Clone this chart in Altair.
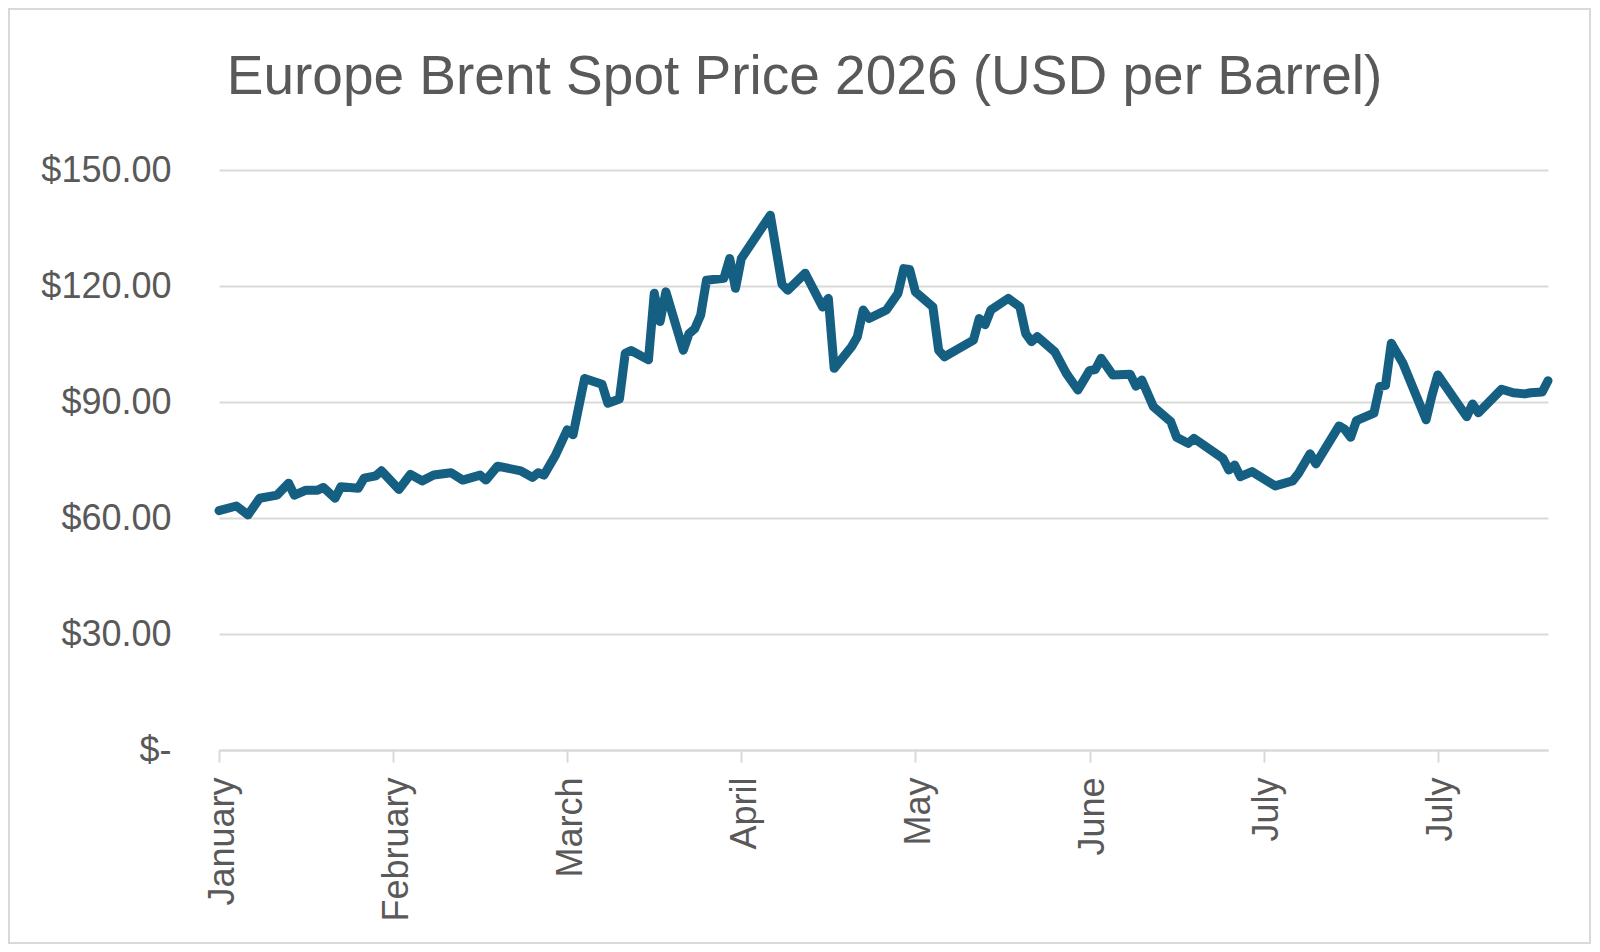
import altair as alt
import pandas as pd

# Day offsets from 2 January 2026 and Brent spot price (USD per barrel)
day_offsets = [0, 3, 5, 7, 10, 12, 13, 15, 17, 18, 20, 21, 24, 25, 27, 28, 31, 33, 35, 37,
               40, 42, 45, 46, 48, 52, 54, 55, 56, 58, 60, 61, 63, 66, 67, 69, 70, 71, 74, 75,
               76, 77, 80, 81, 82, 83, 84, 87, 88, 89, 90, 95, 97, 98, 101, 104, 105, 106, 109, 110,
               111, 112, 115, 117, 118, 119, 120, 123, 124, 125, 127, 130, 131, 132, 133, 136, 138, 139, 140, 141,
               144, 146, 148, 150, 151, 152, 154, 157, 158, 159, 161, 164, 165, 167, 168, 173, 174, 175, 176, 178,
               182, 185, 186, 188, 189, 193, 194, 195, 196, 199, 200, 201, 202, 204, 206, 208, 209, 210, 215, 216,
               217, 221, 223, 225, 226, 228, 229]
prices = [61.9, 63.1, 60.8, 65.1, 65.9, 69.0, 65.9, 67.2, 67.2, 67.9, 65.1, 68.1, 67.7, 70.3, 70.9, 72.2, 67.4, 71.3, 69.6, 71.1,
          71.7, 69.8, 71.1, 69.8, 73.4, 72.2, 70.5, 71.7, 71.1, 76.3, 82.8, 81.5, 96.1, 94.6, 89.7, 90.8, 102.6, 103.3, 100.9, 118.1,
          110.8, 118.5, 103.4, 107.7, 109.0, 112.5, 121.5, 122.0, 127.1, 119.4, 127.1, 138.3, 120.5, 118.9, 123.3, 114.6, 116.8, 98.7, 104.3, 106.9,
          113.8, 111.6, 113.8, 118.1, 124.5, 124.3, 118.5, 114.6, 103.4, 101.7, 103.4, 106.0, 111.6, 110.0, 113.8, 116.8, 114.6, 107.7, 105.6, 106.9,
          103.0, 97.4, 93.1, 98.1, 98.4, 101.3, 97.0, 97.2, 94.1, 95.7, 88.8, 84.9, 80.9, 79.3, 80.6, 75.4, 72.4, 73.7, 70.7, 72.0,
          68.3, 69.6, 71.5, 76.6, 74.0, 83.8, 82.9, 80.9, 85.2, 87.1, 94.0, 94.3, 105.2, 100.0, 92.7, 85.4, 91.7, 97.0, 86.2, 89.5,
          87.2, 93.3, 92.4, 92.1, 92.4, 92.6, 95.5]

tick_days = [(1, 2), (2, 1), (3, 3), (4, 2), (5, 2), (6, 1), (7, 1), (7, 31)]
y_ticks = [0, 30, 60, 90, 120, 150]

start = pd.Timestamp("2026-01-02")
df = pd.DataFrame({
    "date": [(start + pd.Timedelta(days=d)).strftime("%Y-%m-%dT00:00:00") for d in day_offsets],
    "price": prices,
})

FONT = "Liberation Sans"
GREY = "#595959"
LIGHT = "#D9D9D9"

x_enc = alt.X(
    "date:T",
    title=None,
    scale=alt.Scale(domain=[alt.DateTime(year=2026, month=1, date=2),
                            alt.DateTime(year=2026, month=8, date=19)], nice=False),
    axis=alt.Axis(
        values=[alt.DateTime(year=2026, month=m, date=d) for m, d in tick_days],
        format="%B", labelAngle=270, labelFont=FONT, labelFontSize=36, labelColor=GREY,
        labelPadding=15, labelOffset=3, tickSize=12, tickColor=LIGHT, tickWidth=2,
        domainColor=LIGHT, domainWidth=2, grid=False, labelOverlap=False,
    ),
)
y_enc = alt.Y(
    "price:Q",
    title=None,
    scale=alt.Scale(domain=[0, 150], nice=False),
    axis=alt.Axis(
        values=y_ticks,
        labelExpr="datum.value == 0 ? '$-\u00a0' : '$' + format(datum.value, '.2f')",
        labelFont=FONT, labelFontSize=36, labelColor=GREY, labelPadding=48,
        ticks=False, domain=False, grid=True, gridColor=LIGHT, gridWidth=2,
    ),
)

line = alt.Chart(df).mark_line(
    color="#156082", strokeWidth=9, strokeJoin="round", strokeCap="round"
).encode(x=x_enc, y=y_enc)

frame = alt.Chart(pd.DataFrame({"k": [0]})).mark_rect(
    fillOpacity=0, stroke=LIGHT, strokeWidth=2
).encode(x=alt.value(-210), x2=alt.value(1371), y=alt.value(-161), y2=alt.value(773))

chart = alt.layer(frame, line).properties(
    width=1329,
    height=580,
    padding={"left": 211, "top": 162, "right": 44, "bottom": 194},
    autosize=alt.AutoSizeParams(type="none"),
    title=alt.TitleParams(
        "Europe Brent Spot Price 2026 (USD per Barrel)",
        font=FONT, fontSize=55, fontWeight="normal", color=GREY,
        anchor="middle", offset=-98, dx=-79,
    ),
).configure_view(strokeWidth=0)

chart.save("out.html", embed_options={"renderer": "svg", "actions": False})
